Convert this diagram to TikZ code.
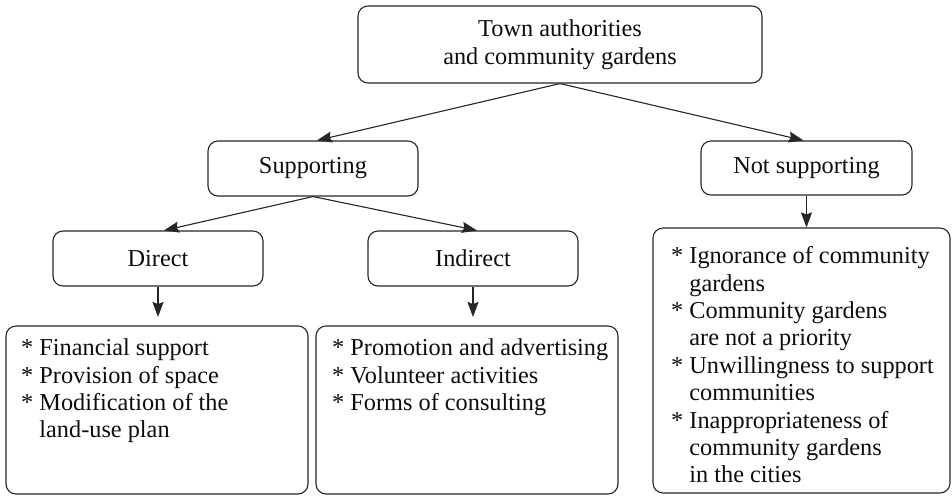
\documentclass[tikz,border=0pt]{standalone}
\usepackage{fontspec}
\setmainfont{Liberation Serif}
\usetikzlibrary{arrows.meta,calc}
\newcommand\hangsp{\hphantom{*}\ }
\begin{document}
\begin{tikzpicture}[x=1pt,y=-1pt,
  box/.style={draw=black!85, line width=1.1pt, rounded corners=10pt, inner sep=0pt},
  lbl/.style={font=\fontsize{24.3}{27.4}\selectfont, text=black!95, align=center},
  items/.style={font=\fontsize{24.3}{27.4}\selectfont, text=black!95, align=left, inner sep=0pt, anchor=north west},
  arr/.style={draw=black!85, line width=1.1pt, -{Stealth[length=15pt,width=11pt,inset=2pt]}}]
\useasboundingbox (0,0) rectangle (952,496);
% level nodes
\node[box,lbl,minimum width=404pt,minimum height=77pt] (top) at (560,44.5) {Town authorities\\and community gardens};
\node[box,lbl,minimum width=210pt,minimum height=55pt] (sup) at (313,168.5) {Supporting};
\node[box,lbl,minimum width=211pt,minimum height=54pt] (ns) at (806.5,168) {Not supporting};
\node[box,lbl,minimum width=210pt,minimum height=55pt] (dir) at (158,258.5) {Direct};
\node[box,lbl,minimum width=210pt,minimum height=55pt] (ind) at (473,258.5) {Indirect};
% bullet boxes
\node[box,minimum width=302pt,minimum height=168pt] (lbox) at (157,410) {};
\node[box,minimum width=302pt,minimum height=168pt] (mbox) at (467,410) {};
\node[box,minimum width=297pt,minimum height=265pt] (rbox) at (801.5,360.5) {};
\node[items] (ltxt) at (21,338.6) {* Financial support\\* Provision of space\\* Modification of the\\\hangsp land-use plan};
\node[items] (mtxt) at (332,338.6) {* Promotion and advertising\\* Volunteer activities\\* Forms of consulting};
\node[items] (rtxt) at (671,246.4) {* Ignorance of community\\\hangsp gardens\\* Community gardens\\\hangsp are not a priority\\* Unwillingness to support\\\hangsp communities\\* Inappropriateness of\\\hangsp community gardens\\\hangsp in the cities};
% free ends of the short arrows
\coordinate (dirE) at (158,317);
\coordinate (indE) at (473,317);
% connectors
\draw[arr] (top.south) -- ([xshift=4pt]sup.north);
\draw[arr] (top.south) -- ([xshift=-3pt]ns.north);
\draw[arr] (sup.south) -- ([xshift=6pt]dir.north);
\draw[arr] (sup.south) -- ([xshift=4pt]ind.north);
\draw[arr] (dir.south) -- (dirE);
\draw[arr] (ind.south) -- (indE);
\draw[arr] (ns.south) -- (ns.south |- rbox.north);
\end{tikzpicture}
\end{document}
